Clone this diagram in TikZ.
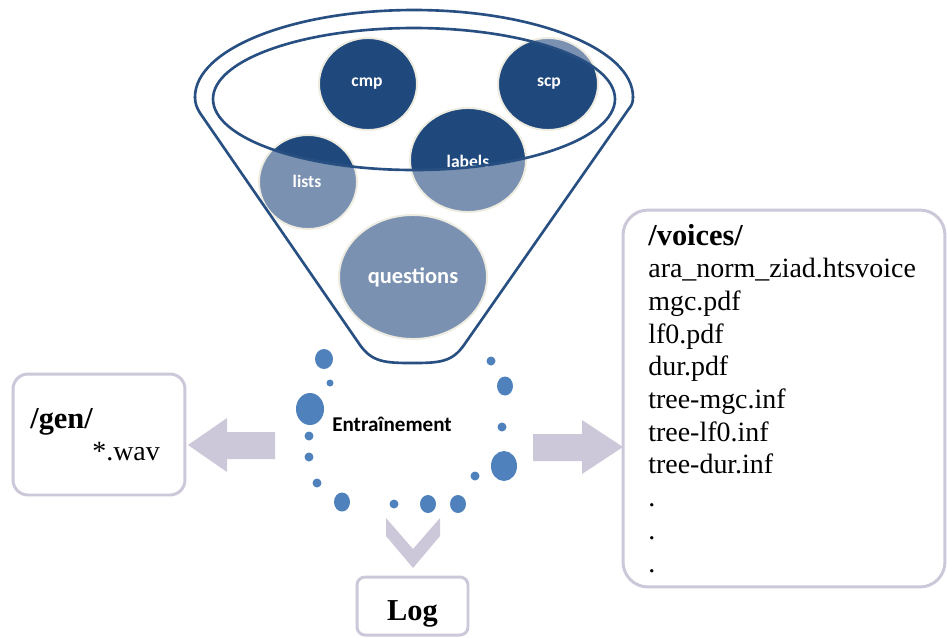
\documentclass[tikz,border=0pt]{standalone}
\usepackage{fontspec}
\setmainfont{Liberation Serif}
\newfontfamily\labelfont{Carlito}
\usetikzlibrary{shapes.geometric}

\definecolor{navy}{HTML}{1F497D}
\definecolor{paleblue}{HTML}{7A91B1}
\definecolor{rimblue}{HTML}{284F82}
\definecolor{cream}{HTML}{EEECE1}
\definecolor{dotblue}{HTML}{4F81BD}
\definecolor{lilac}{HTML}{CDC7DA}

\begin{document}
\begin{tikzpicture}[x=0.02cm, y=-0.02cm,
  rim/.style={draw=rimblue, line width=1.5pt},
  filebox/.style={draw=lilac, line width=1.7pt, fill=white, rectangle, inner sep=0pt},
  boxtext/.style={font=\fontsize{15.9}{18.5}\selectfont, inner sep=0pt, anchor=base west},
  boxhead/.style={boxtext, font=\bfseries\fontsize{17.3}{19}\selectfont},
  balltext/.style={text=white, inner sep=0pt, font=\labelfont\bfseries\fontsize{10}{12}\selectfont},
  blockarrow/.style={fill=lilac, draw=none},
  bead/.style={fill=dotblue, draw=none}]

\useasboundingbox (0,0) rectangle (947,637);

% ---------- the ingredients in the funnel ----------
% light fill everywhere
\foreach \cx/\cy/\rx/\ry in {368/84/49/46, 548/84/50/46, 308/182/49/47, 468/160/58/52, 413/277/74/62}
  \fill[paleblue] (\cx,\cy) ellipse [x radius=\rx, y radius=\ry];
% darker inside the inner rim
\begin{scope}
  \clip (414,99) ellipse [x radius=201, y radius=71];
  \foreach \cx/\cy/\rx/\ry in {368/84/49/46, 548/84/50/46, 308/182/49/47, 468/160/58/52, 413/277/74/62}
    \fill[navy] (\cx,\cy) ellipse [x radius=\rx, y radius=\ry];
\end{scope}
% thin cream borders
\foreach \cx/\cy/\rx/\ry in {368/84/49/46, 548/84/50/46, 308/182/49/47, 468/160/58/52, 413/277/74/62}
  \draw[cream, line width=1.1pt] (\cx,\cy) ellipse [x radius=\rx, y radius=\ry];

\node[balltext] (cmp) at (367,84) {cmp};
\node[balltext] (scp) at (549,84) {scp};
\node[balltext] (lists) at (307,181) {lists};
\node[balltext, anchor=base] (labels) at (468,167) {labels};
\node[balltext, font=\labelfont\bfseries\fontsize{12.8}{15}\selectfont] (questions) at (413,277) {questions};

% ---------- the funnel ----------
\begin{scope}
  \clip (180,0) rectangle (650,97);
  \draw[rim] (414,97) ellipse [x radius=219, y radius=87];
\end{scope}
\draw[rim, line join=round] (195,97) .. controls (195,104) and (197,108) .. (200,113)
  -- (360,345) .. controls (372,362) and (385,363) .. (412,363) .. controls (440,363) and (452,362) .. (464,345)
  -- (628,110) .. controls (631,106) and (633,104) .. (633,97);
\draw[rim] (414,99) ellipse [x radius=201, y radius=71];

% ---------- the training ring ----------
\node[font=\labelfont\bfseries\fontsize{12}{14}\selectfont, inner sep=0pt, anchor=base] (train) at (392,431) {Entraînement};

\foreach \bx/\by/\rx/\ry in {324/359/9/10, 330/383/3.5/3.5, 310/409/14/16, 309/436/4.5/4.5,
    309/457/4.5/4.5, 317/483/4.5/4.5, 342/502/8/9.5, 394/504/4.5/4.5, 428/504/8/9,
    458/504/8/9, 475/476/4.5/4.5, 504/466/13/15, 502/427/4.5/4.5, 505/386/8/9.5, 491/361/4.5/4.5}
  \fill[bead] (\bx,\by) ellipse [x radius=\rx, y radius=\ry];

% ---------- outputs ----------
\node[filebox, rounded corners=0.3cm, minimum width=3.44cm, minimum height=2.42cm] (gen) at (99,434.5) {};
\node[boxhead] (gendir) at (30,428) {/gen/};
\node[boxtext] (wav) at (92,460) {*.wav};

\node[filebox, rounded corners=0.5cm, minimum width=6.44cm, minimum height=7.54cm] (voices) at (784,398.5) {};
\node[boxhead] (voicedir) at (648,245) {/voices/};
\foreach \t [count=\i] in {ara\_norm\_ziad.htsvoice, mgc.pdf, lf0.pdf, dur.pdf,
    tree-mgc.inf, tree-lf0.inf, tree-dur.inf, ., ., .}
  \node[boxtext] (voice-\i) at (648,245+32.7*\i) {\t};

\node[filebox, rounded corners=0.16cm, minimum width=2.22cm, minimum height=1.16cm] (log) at (412.5,606) {};
\node[boxhead, anchor=base] (logtext) at (log.center |- 0,620) {Log};

% ---------- block arrows from the training ring ----------
\coordinate (gentip) at (188,445);
\coordinate (voicetip) at (623,447);
\coordinate (logtip) at (413,568);
\fill[blockarrow] (gentip) -- (227,418) -- (227,432) -- (275,432) -- (275,459) -- (227,459) -- (227,472) -- cycle;
\fill[blockarrow] (voicetip) -- (582,420) -- (582,434) -- (533,434) -- (533,461) -- (582,461) -- (582,474) -- cycle;
\fill[blockarrow] (logtip) -- (386,536) -- (386,518) -- (413,549) -- (440,518) -- (440,536) -- cycle;

\end{tikzpicture}
\end{document}
